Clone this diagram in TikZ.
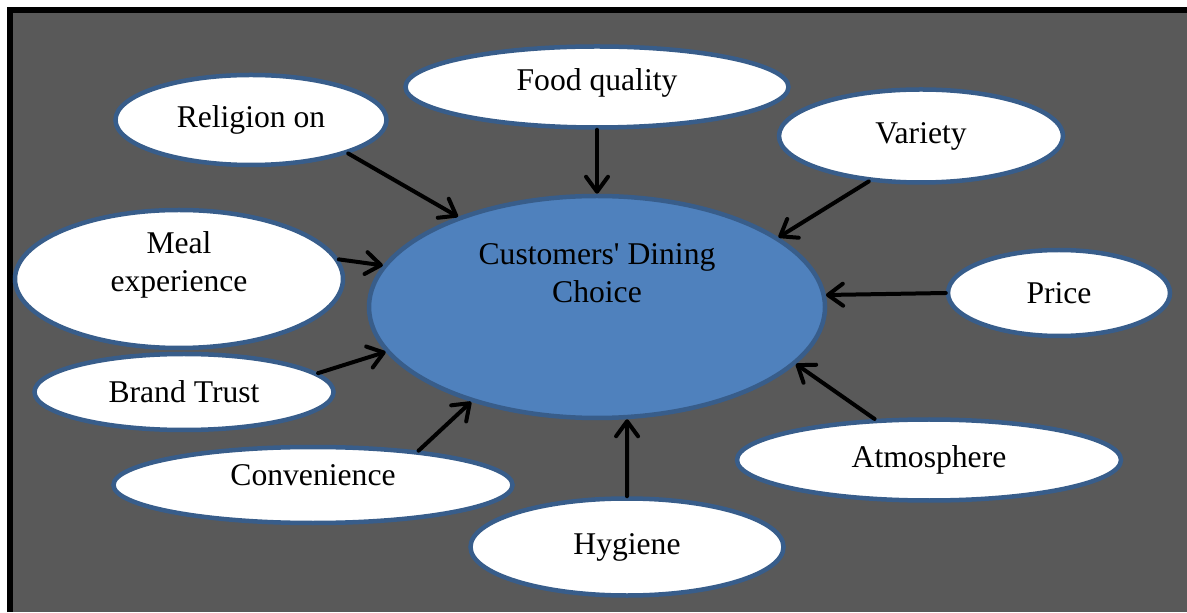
\documentclass[tikz,border=0pt]{standalone}
\usepackage{fontspec}
\setmainfont{Liberation Serif}
\usetikzlibrary{arrows.meta,shapes.geometric}
\definecolor{panelgray}{HTML}{595959}
\definecolor{rimblue}{HTML}{385D8A}
\definecolor{coreblue}{HTML}{4F81BD}
\tikzset{%
  >={Straight Barb[length=3mm,width=4.4mm,round]},
  % Specifications for style of nodes:
          factor/.style = {ellipse, draw=rimblue, line width=0.09cm,
                           fill=white, inner sep=0pt, align=center,
                           font=\fontsize{18}{21.6}\selectfont},
          choice/.style = {factor, fill=coreblue},
            link/.style = {->, line width=0.08cm, line cap=round},
}

\begin{document}
\begin{tikzpicture}[node distance=3cm]
  % Frame and background
  \useasboundingbox (0,0) rectangle (23.74,12.24);
  \fill[white] (0,0) rectangle (23.74,12.24);
  \fill[panelgray] (0.14,0) rectangle (23.74,12.10);
  \draw[line width=0.12cm] (0.2,0) -- (0.2,12.04) -- (23.74,12.04);

  % Specification of nodes (position, etc.)
  \node (dining)        [choice, minimum width=9.12cm, minimum height=4.44cm, text depth=1.34cm] at (11.94,6.10) {Customers\textquotesingle{} Dining\\Choice};
  \node (food)          [factor, above of=dining, yshift=1.4cm, minimum width=7.66cm, minimum height=1.62cm, text depth=0.3cm] {Food quality};
  \node (religion)      [factor, left of=dining, xshift=-3.92cm, yshift=3.74cm, minimum width=5.42cm, minimum height=1.8cm] {Religion on};
  \node (variety)       [factor, right of=dining, xshift=3.48cm, yshift=3.42cm, minimum width=5.68cm, minimum height=1.86cm] {Variety};
  \node (meal)          [factor, left of=dining, xshift=-5.36cm, yshift=0.56cm, minimum width=6.56cm, minimum height=2.76cm, text depth=0.7cm] {Meal\\experience};
  \node (price)         [factor, right of=dining, xshift=6.24cm, yshift=0.28cm, minimum width=4.44cm, minimum height=1.72cm] {Price};
  \node (brand)         [factor, left of=dining, xshift=-5.26cm, yshift=-1.7cm, minimum width=5.98cm, minimum height=1.52cm] {Brand Trust};
  \node (convenience)   [factor, below of=dining, xshift=-5.68cm, yshift=-0.56cm, minimum width=7.98cm, minimum height=1.52cm, text depth=0.38cm] {Convenience};
  \node (hygiene)       [factor, below of=dining, xshift=0.6cm, yshift=-1.8cm, minimum width=6.26cm, minimum height=1.94cm] {Hygiene};
  \node (atmosphere)    [factor, right of=dining, xshift=3.64cm, yshift=-3.06cm, minimum width=7.68cm, minimum height=1.62cm] {Atmosphere};

  \draw[link]           (religion.-19) -- (dining.147.6);
  \draw[link]           (food.south) -- (dining.north);
  \draw[link]           (variety.221) -- (dining.21);
  \draw[link]           (meal.7) -- (dining.169);
  \draw[link]           (price.west) -- (dining.3.5);
  \draw[link]           (brand.8) -- (dining.192);
  \draw[link]           (convenience.18) -- (dining.217);
  \draw[link]           (hygiene.north) -- (dining.-75);
  \draw[link]           (atmosphere.143) -- (dining.-16.8);

\end{tikzpicture}
\end{document}
